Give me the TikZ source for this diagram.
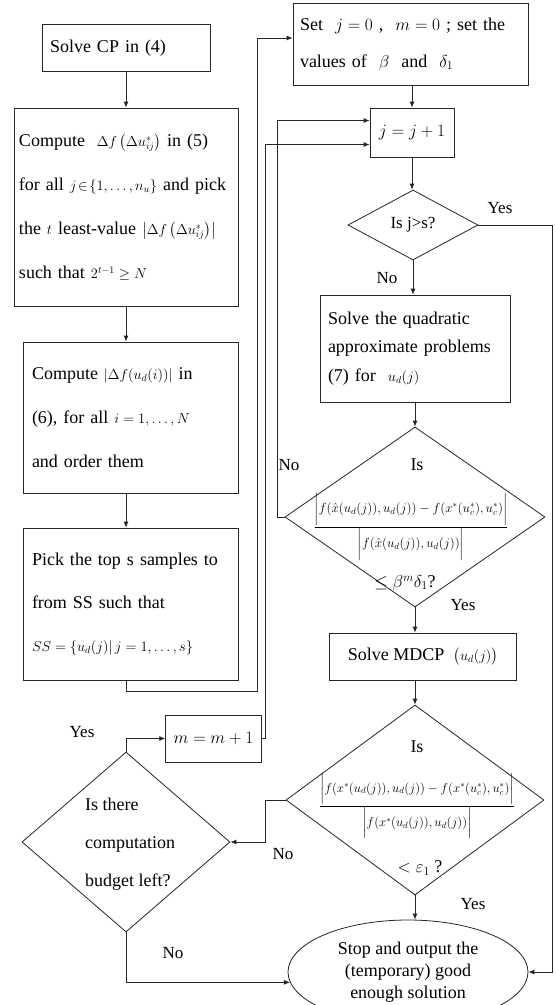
\documentclass[tikz,border=0pt]{standalone}
\usepackage{amsmath}
\usepackage{graphicx}
\usepackage{fontspec}
\setmainfont{Liberation Serif}
\usetikzlibrary{shapes.geometric,arrows.meta}
\newcommand{\mm}[1]{{\fontsize{14}{14}\selectfont$#1$}}
\newcommand{\tb}{\rule[-12pt]{0pt}{32pt}}
\begin{document}
\begin{tikzpicture}[x=1pt,y=-1pt,
 box/.style={draw=black!85, line width=0.8pt, inner xsep=8pt, inner ysep=0pt, align=left},
 dia/.style={draw=black!85, line width=0.8pt, diamond, inner sep=0pt},
 conn/.style={draw=black!85, line width=0.8pt, -{Latex[length=6pt,width=5pt]}},
 lab/.style={font=\fontsize{17}{20}\selectfont, inner sep=0pt},
 txt/.style={font=\fontsize{18}{22}\selectfont, inner sep=0pt}]
\fill[white] (0,0) rectangle (555,1005);
\clip (0,0) rectangle (555,1005);
% left column
\node[box, text width=152pt, minimum height=47pt, font=\fontsize{18}{22}\selectfont] (A) at (126,48) {Solve CP in (4)};
\node[box, inner xsep=5pt, text width=214pt, minimum height=198pt, font=\fontsize{18}{44}\selectfont] (B) at (126,207)
 {Compute \ \mm{\Delta f\left(\Delta u_{ij}^{*}\right)} in (5)\\\mbox{for all \mm{j\!\in\!\{1,\ldots,n_u\}} and pick}\\the \mm{t} least-value \mm{\left|\Delta f\left(\Delta u_{ij}^{*}\right)\right|}\\such that \mm{2^{t-1}\geq N}};
\node[box, inner xsep=9pt, text width=197pt, minimum height=151pt, font=\fontsize{18}{44}\selectfont] (C) at (130.5,417.5)
 {Compute \mm{\left|\Delta f(u_d(i))\right|} in\\(6), for all \mm{i=1,\ldots,N}\\and order them};
\node[box, inner xsep=9pt, text width=197pt, minimum height=152pt, font=\fontsize{18}{43}\selectfont] (D) at (130.5,604)
 {Pick the top s samples to\\from SS such that\\\mm{SS=\{u_d(j)|\,j=1,\ldots,s\}}};
% right column
\node[box, inner xsep=7pt, text width=221pt, minimum height=82pt, font=\fontsize{18}{37}\selectfont] (E) at (410.5,44)
 {Set \ $j=0$ , \ $m=0$ ; set the\\values of \ $\beta$ \ and \ $\delta_1$};
\node[box, align=center, minimum width=84pt, minimum height=49pt, font=\fontsize{18}{22}\selectfont] (F) at (412,132.5) {$j=j+1$};
\node[dia, minimum width=130pt, minimum height=70pt, font=\fontsize{17}{20}\selectfont] (G1) at (413,225) {Is j>s?};
\node[box, inner xsep=8pt, text width=174pt, minimum height=107pt, font=\fontsize{18}{28.5}\selectfont] (H) at (415,348.5)
 {Solve the quadratic\\approximate problems\\(7) for \ \mm{u_d(j)}};
\node[dia, minimum width=260pt, minimum height=180pt] (G2) at (415,517) {};
\node[txt] (G2is) at (417,465) {Is};
\node[inner sep=0pt, font=\fontsize{14}{16}\selectfont] (G2fr) at (411,527)
 {\scalebox{0.91}{$\dfrac{\left|\tb f(\hat{x}(u_d(j)),u_d(j))-f(x^{*}(u_c^{*}),u_c^{*})\right|}{\left|\tb f(\hat{x}(u_d(j)),u_d(j))\right|}$}};
\node[txt] (G2c) at (405,583) {$\leq\beta^{m}\delta_1$?};
\node[box, align=center, minimum width=187pt, minimum height=47pt, font=\fontsize{18}{22}\selectfont] (I) at (423,656.5) {Solve MDCP \ \mm{\big(u_d(j)\big)}};
\node[dia, minimum width=258pt, minimum height=190pt] (G3) at (415,800) {};
\node[txt] (G3is) at (417,747) {Is};
\node[inner sep=0pt, font=\fontsize{14}{16}\selectfont] (G3fr) at (417,806)
 {\scalebox{0.89}{$\dfrac{\left|\tb f(x^{*}(u_d(j)),u_d(j))-f(x^{*}(u_c^{*}),u_c^{*})\right|}{\left|\tb f(x^{*}(u_d(j)),u_d(j))\right|}$}};
\node[txt] (G3c) at (420,868) {$<\varepsilon_1$ ?};
% bottom left
\node[box, align=center, minimum width=83pt, minimum height=47pt, font=\fontsize{18}{22}\selectfont] (M) at (213.5,738.5) {$m=m+1$};
\node[dia, minimum width=208pt, minimum height=180pt] (J) at (126,842) {};
\node[anchor=west, inner sep=0pt, align=left, font=\fontsize{18}{38}\selectfont] (Jt) at (85,844) {Is there\\computation\\budget left?};
\node[draw=black!85, line width=0.8pt, ellipse, minimum width=240pt, minimum height=104pt, inner sep=0pt, align=center, font=\fontsize{18}{22}\selectfont] (K) at (408,972)
 {Stop and output the\\(temporary) good\\enough solution};
% coordinates
\coordinate (c1) at (257,691);
\coordinate (e1) at (257,38);
\coordinate (cY) at (552,972);
\coordinate (cN1) at (277,517);
\coordinate (cN2) at (265,800);
\coordinate (cM) at (265,738.5);
% connectors
\draw[conn] (A) -- (B);
\draw[conn] (B.south) -- (B.south |- C.north);
\draw[conn] (B.south |- C.south) -- (B.south |- D.north);
\draw[conn] (B.south |- D.south) |- (c1) -- (e1) -- (e1 -| E.west);
\draw[conn] (F.north |- E.south) -- (F.north);
\draw[conn] (F.south) -- (F.south |- G1.north);
\draw[conn] (G1.south) -- (G1.south |- H.north);
\draw[conn] (G1.east) -| (cY) -- (K.east);
\draw[conn] (G2.north |- H.south) -- (G2.north);
\draw[conn] (G2.west) -- (cN1) |- ([yshift=12pt]F.west);
\draw[conn] (G2.south) -- (G2.south |- I.north);
\draw[conn] (G3.north |- I.south) -- (G3.north);
\draw[conn] (G3.west) -- (cN2) |- (J.east);
\draw[conn] (G3.south) -- (G3.south |- K.north);
\draw[conn] (J.north) |- (M.west);
\draw[conn] (M.east) -- (cM) |- ([yshift=-12pt]F.west);
\draw[conn] (J.south) |- (K.185);
% labels
\node[lab] (l1) at (387,278) {No};
\node[lab] (l2) at (500,208) {Yes};
\node[lab] (l3) at (289,465) {No};
\node[lab] (l4) at (463,605) {Yes};
\node[lab] (l5) at (283,854) {No};
\node[lab] (l6) at (473,904) {Yes};
\node[lab] (l7) at (82,732) {Yes};
\node[lab] (l8) at (173,953) {No};
\end{tikzpicture}
\end{document}
